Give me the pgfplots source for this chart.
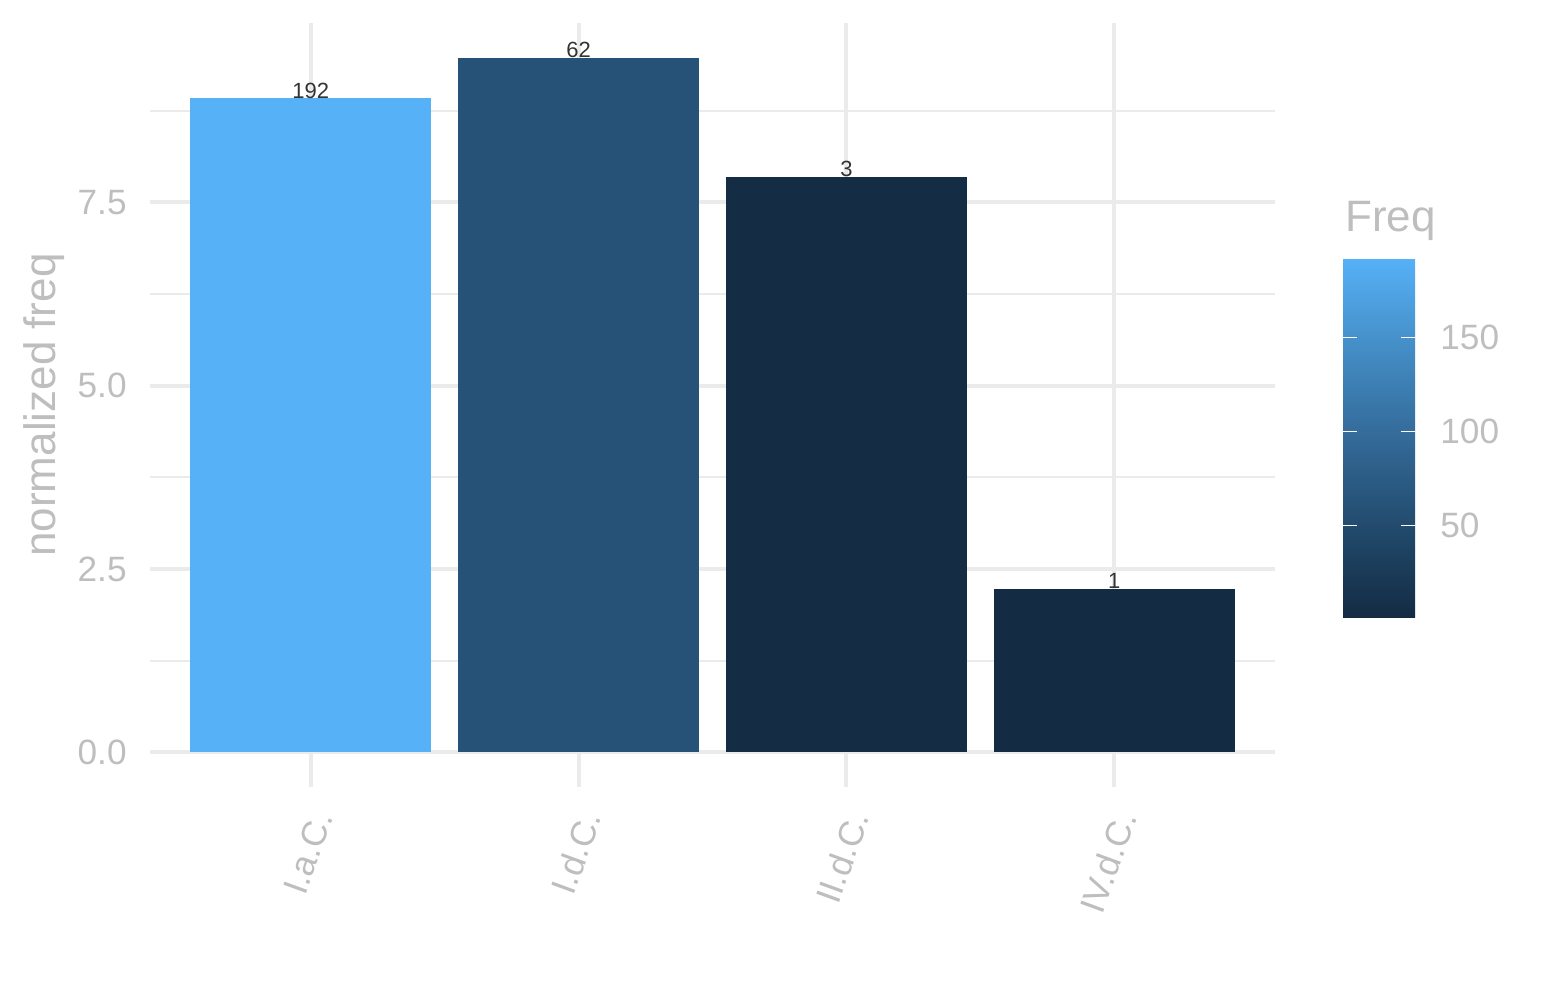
\documentclass[border=0pt]{standalone}
\usepackage{pgfplots}
\pgfplotsset{compat=1.18}
\usepackage{fontspec}
\setmainfont{Liberation Sans}

\definecolor{labelgray}{RGB}{190,190,190}
\definecolor{gridgray}{RGB}{235,235,235}
\definecolor{txtdark}{RGB}{51,51,51}
% fill colours from the Freq gradient (#132B43 -> #56B1F7)
\definecolor{f192}{RGB}{86,177,247}
\definecolor{f62}{RGB}{39,82,120}
\definecolor{f3}{RGB}{20,44,68}
\definecolor{f1}{RGB}{19,43,67}

\begin{document}
\begin{tikzpicture}
\path[use as bounding box] (0,0) rectangle (772.5bp,500bp);
\begin{axis}[
  at={(75bp,106.5bp)}, anchor=south west,
  scale only axis, width=562.5bp, height=382bp,
  xmin=0.4, xmax=4.6, ymin=-0.4735, ymax=9.9435,
  ybar, bar width=0.9, bar shift=0pt,
  axis line style={draw=none},
  xtick={1,2,3,4}, xticklabels={I.a.C.,I.d.C.,II.d.C.,IV.d.C.},
  ytick={0,2.5,5,7.5}, minor ytick={1.25,3.75,6.25,8.75},
  xmajorgrids, ymajorgrids, yminorgrids,
  major grid style={gridgray, line width=2bp},
  minor grid style={gridgray, line width=1bp},
  major tick length=0pt, minor tick length=0pt,
  tick label style={font=\fontsize{17.6bp}{20bp}\selectfont, text=labelgray},
  /pgf/number format/assume math mode=true,
  yticklabel style={/pgf/number format/fixed, /pgf/number format/fixed zerofill,
    /pgf/number format/precision=1, anchor=east, inner sep=0pt, xshift=-11.5bp},
  xticklabel style={xshift=6bp, yshift=-13bp, rotate=70, anchor=east, inner sep=0pt},
  ylabel={normalized freq},
  ylabel style={at={(axis description cs:-0.0844,0.5)}, anchor=base,
    font=\fontsize{22bp}{26bp}\selectfont, text=labelgray},
  point meta min=1, point meta max=192,
  colormap={ggblue}{rgb255=(19,43,67) rgb255=(34,74,108) rgb255=(51,106,152)
    rgb255=(68,141,198) rgb255=(86,177,247)},
  colorbar,
  colorbar/width=36bp,
  colorbar style={
    at={(parent axis.south east)}, anchor=south west,
    xshift=25.5bp, yshift=84.5bp,
    scale only axis, height=180bp,
    ytick={50,100,150},
    ytick pos=both, yticklabel pos=right, tick align=inside,
    axis line style={draw=none},
    major tick length=7bp,
    major tick style={white, line width=0.6bp},
    /pgf/number format/assume math mode=true,
    yticklabel style={anchor=west, inner sep=0pt, xshift=12.5bp,
      font=\fontsize{17.6bp}{20bp}\selectfont, text=labelgray},
  },
  nodes near coords,
  every node near coord/.append style={anchor=base, inner sep=0pt,
    font=\fontsize{11bp}{13bp}\selectfont, text=txtdark},
]
\addplot[fill=f192, draw=none, point meta=explicit symbolic] coordinates {(1,8.92) [192]};
\addplot[fill=f62, draw=none, point meta=explicit symbolic] coordinates {(2,9.47) [62]};
\addplot[fill=f3, draw=none, point meta=explicit symbolic] coordinates {(3,7.85) [3]};
\addplot[fill=f1, draw=none, point meta=explicit symbolic] coordinates {(4,2.23) [1]};
\end{axis}
\node[anchor=base west, inner sep=0pt, font=\fontsize{22bp}{26bp}\selectfont, text=labelgray]
  at (672.5bp,384bp) {Freq};
\end{tikzpicture}
\end{document}
